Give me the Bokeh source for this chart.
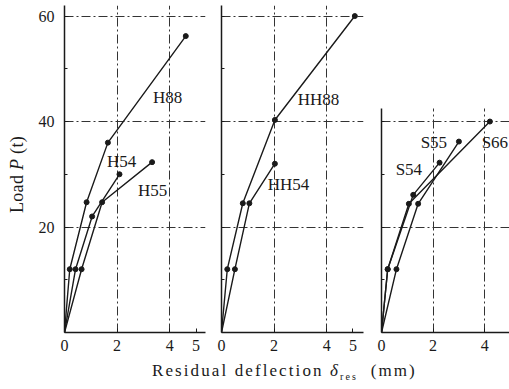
from bokeh.plotting import figure
from bokeh.models import Label, FixedTicker, Div, Range1d
from bokeh.layouts import row, column
from bokeh.embed import file_html
from bokeh.resources import INLINE

# ---- data (residual deflection mm, load t) ----
h88_x = [0, 0.20, 0.84, 1.65, 4.61]
h88_y = [0, 12, 24.7, 36, 56.2]
h54_x = [0, 0.42, 1.05, 2.09]
h54_y = [0, 12, 22, 30]
h55_x = [0, 0.65, 1.43, 3.33]
h55_y = [0, 12, 24.7, 32.3]

hh88_x = [0, 0.22, 0.81, 2.03, 5.07]
hh88_y = [0, 12, 24.5, 40.3, 60]
hh54_x = [0, 0.51, 1.06, 2.03]
hh54_y = [0, 12, 24.5, 32]

s54_x = [0, 0.24, 1.23, 2.25]
s54_y = [0, 12, 26.1, 32.2]
s55_x = [0, 0.58, 1.42, 3.00]
s55_y = [0, 12, 24.4, 36.2]
s66_x = [0, 0.24, 1.06, 4.20]
s66_y = [0, 12, 24.4, 40]

x_ticks_12 = [0, 2, 4, 5]
x_ticks_3 = [0, 2, 4]
y_major = [20, 40, 60]
y_minor = [10, 30, 50]

FONT = "Liberation Serif"
INK = "#1a1a1a"


def make_panel(width, height, xmax, ymax, bl, br, xticks, hgrid, axis_top, show_ylabels):
    p = figure(width=width, height=height, output_backend="svg", toolbar_location=None,
               x_range=Range1d(0, xmax), y_range=Range1d(0, ymax),
               min_border_left=bl, min_border_right=br, min_border_top=5, min_border_bottom=30)
    p.outline_line_color = None
    p.background_fill_color = "white"
    p.border_fill_color = "white"
    for ax in (p.xaxis[0], p.yaxis[0]):
        ax.axis_line_color = INK
        ax.axis_line_width = 1.5
        ax.major_tick_line_color = INK
        ax.major_tick_in = 4
        ax.major_tick_out = 0
        ax.minor_tick_line_color = INK
        ax.minor_tick_in = 3
        ax.minor_tick_out = 0
        ax.major_label_text_font = FONT
        ax.major_label_text_font_size = "16px"
        ax.major_label_text_color = INK
    p.xaxis.ticker = FixedTicker(ticks=xticks, minor_ticks=[])
    p.xaxis.major_label_standoff = 7
    if show_ylabels:
        p.yaxis.ticker = FixedTicker(ticks=y_major, minor_ticks=y_minor)
        p.yaxis.major_label_standoff = 10
    else:
        p.yaxis.ticker = FixedTicker(ticks=[], minor_ticks=[t for t in y_major + y_minor if t <= axis_top])
    p.yaxis.bounds = (0, axis_top)
    p.xgrid.ticker = FixedTicker(ticks=[2, 4])
    p.ygrid.ticker = FixedTicker(ticks=hgrid)
    p.xgrid.cross_bounds = (0, axis_top)
    for g in (p.xgrid[0], p.ygrid[0]):
        g.grid_line_color = "#333333"
        g.grid_line_width = 1
        g.grid_line_dash = "9 3 2 3"
    return p


def series(p, xs, ys):
    p.line(xs, ys, line_color=INK, line_width=1.4)
    p.scatter(xs[1:], ys[1:], marker="circle", size=5, fill_color=INK, line_color=INK)


def tag(p, x, y, txt, align="center"):
    p.add_layout(Label(x=x, y=y, text=txt, text_font=FONT, text_font_size="17px",
                       text_color=INK, text_align=align, text_baseline="middle"))


H = 362
YMAX = 62.0

# panel 1
p1 = make_panel(176, H, 5.36, YMAX, 30, 5, x_ticks_12, [20, 40, 60], YMAX, True)
series(p1, h88_x, h88_y)
series(p1, h54_x, h54_y)
series(p1, h55_x, h55_y)
tag(p1, 3.92, 44.5, "H88")
tag(p1, 2.17, 32.4, "H54")
tag(p1, 3.35, 26.9, "H55")

# panel 2
p2 = make_panel(158, H, 5.4, YMAX, 11, 5, x_ticks_12, [20, 40, 60], YMAX, False)
series(p2, hh88_x, hh88_y)
series(p2, hh54_x, hh54_y)
tag(p2, 3.69, 44.2, "HH88")
tag(p2, 2.55, 28.0, "HH54")

# panel 3
p3 = make_panel(141, H, 4.96, YMAX, 13, 0, x_ticks_3, [20, 40], 42.5, False)
series(p3, s54_x, s54_y)
series(p3, s55_x, s55_y)
series(p3, s66_x, s66_y)
tag(p3, 1.06, 31.0, "S54")
tag(p3, 2.03, 36.0, "S55")
tag(p3, 3.88, 36.0, "S66", align="left")

ylabel = Div(text="Load <i>P</i> (t)", width=34, height=H, margin=(0, 0, 0, 0),
             styles={"writing-mode": "vertical-rl", "transform": "rotate(180deg)",
                     "font-family": FONT, "font-size": "18px", "letter-spacing": "0.3px",
                     "line-height": "34px", "text-indent": "149px", "color": INK,
                     "overflow": "hidden"})

xlabel = Div(text="<div style='margin-left:152px; white-space:nowrap'>Residual deflection&nbsp;"
                  "<i>δ</i><sub style='font-size:10px'>res</sub>&nbsp;&nbsp;(mm)</div>",
             width=509, height=27, margin=(0, 0, 0, 0),
             styles={"font-family": FONT, "font-size": "17px", "letter-spacing": "2.1px",
                     "color": INK, "line-height": "18px", "overflow": "hidden"})

layout = column(row(ylabel, p1, p2, p3), xlabel)

with open("out.html", "w") as f:
    f.write(file_html(layout, INLINE))
